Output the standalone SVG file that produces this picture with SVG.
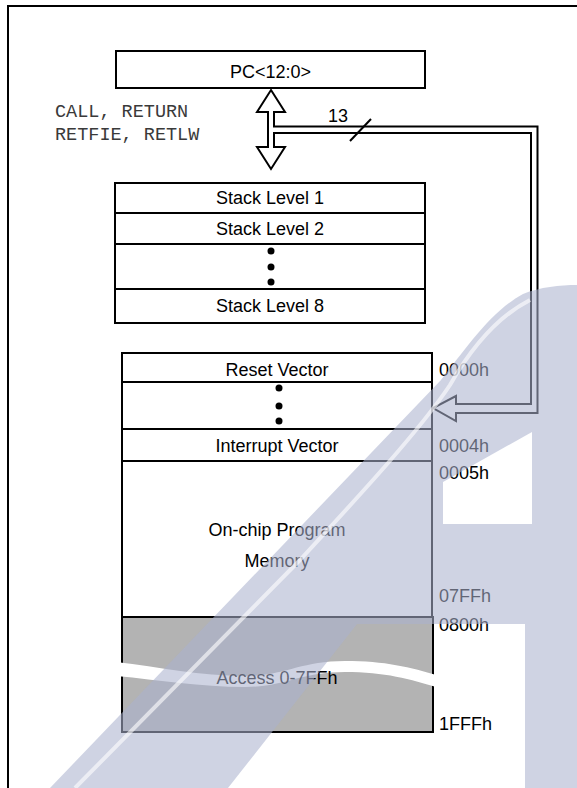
<svg xmlns="http://www.w3.org/2000/svg" width="577" height="788" viewBox="0 0 577 788">
<style>
.box{fill:#fff;stroke:#000;stroke-width:2}
.ln{stroke:#000;stroke-width:2;fill:none}
.t{font-family:"Liberation Sans",Arial,sans-serif;font-size:18px;fill:#000;text-anchor:middle}
.a{font-family:"Liberation Sans",Arial,sans-serif;font-size:18px;fill:#000}
.m{font-family:"Liberation Mono","Courier New",monospace;font-size:18.5px;fill:#3a3a3a}
.dot{fill:#000}
</style>
<rect x="0" y="0" width="577" height="788" fill="#fff"/>
<path d="M8,788 V6 H577" class="ln"/>

<g id="pc">
<rect class="box" x="116" y="51" width="309" height="37"/>
<text class="t" x="270.5" y="77.5">PC&lt;12:0&gt;</text>
</g>

<g id="ops-label">
<text class="m" x="55" y="117">CALL, RETURN</text>
<text class="m" x="55" y="139.5">RETFIE, RETLW</text>
</g>

<g id="stack">
<rect class="box" x="115" y="183" width="310" height="140"/>
<line class="ln" x1="115" y1="213" x2="425" y2="213"/>
<line class="ln" x1="115" y1="244" x2="425" y2="244"/>
<line class="ln" x1="115" y1="289" x2="425" y2="289"/>
<text class="t" x="270" y="204">Stack Level 1</text>
<text class="t" x="270" y="235">Stack Level 2</text>
<circle class="dot" cx="271" cy="251" r="3.5"/>
<circle class="dot" cx="271" cy="267" r="3.5"/>
<circle class="dot" cx="271" cy="282" r="3.5"/>
<text class="t" x="270" y="311.5">Stack Level 8</text>
</g>

<g id="memory">
<rect class="box" x="122" y="353" width="310" height="264"/>
<line class="ln" x1="122" y1="382" x2="432" y2="382"/>
<line class="ln" x1="122" y1="429" x2="432" y2="429"/>
<line class="ln" x1="122" y1="461" x2="432" y2="461"/>
<text class="t" x="277" y="375.5">Reset Vector</text>
<circle class="dot" cx="279" cy="388" r="3.5"/>
<circle class="dot" cx="279" cy="406" r="3.5"/>
<circle class="dot" cx="279" cy="421" r="3.5"/>
<text class="t" x="277" y="452">Interrupt Vector</text>
<text class="t" x="277" y="536">On-chip Program</text>
<text class="t" x="277" y="567">Memory</text>
</g>

<g id="unimplemented">
<rect x="122" y="617" width="311" height="115" fill="#b3b3b3" stroke="#000" stroke-width="2"/>
<path d="M116,662 C160,667 200,676 245,676 C285,676 300,661 345,661 C385,661 410,667 439,676 L439,688 C410,679 385,672 345,672 C300,672 285,687 245,687 C200,687 160,680 116,676 Z" fill="#fff"/>
<text class="t" x="277" y="684">Access 0-7FFh</text>
</g>

<g id="addresses">
<text class="a" x="439" y="376">0000h</text>
<text class="a" x="439" y="452">0004h</text>
<text class="a" x="439" y="479">0005h</text>
<text class="a" x="439" y="602">07FFh</text>
<text class="a" x="439" y="631">0800h</text>
<text class="a" x="439" y="730">1FFFh</text>
</g>

<g id="connectors">
<path d="M271,90 L285,112 L274,112 L274,126.5 L537.5,126.5 L537.5,413 L456,413 L456,421 L433,408 L456,396 L456,404 L531,404 L531,133 L274,133 L274,147 L285,147 L271,169 L257,147 L268,147 L268,112 L257,112 Z" fill="#fff" stroke="#000" stroke-width="2" stroke-linejoin="miter"/>
<line class="ln" x1="350" y1="141" x2="371" y2="119" stroke-width="1.5"/>
<text class="a" x="328" y="122" font-size="16">13</text>
</g>

<g id="watermark">
<path fill-rule="evenodd" fill="rgb(170,178,205)" fill-opacity="0.57" d="M50,788 L441,380 C465,350 490,312 523,294 C540,287 560,285 577,285 L577,788 L525,788 L525,624 L357,624 L228,788 Z M443,482 L532,432 L532,524 L443,524 Z"/>
<path d="M75,788 L300,560 C360,495 420,430 450,385 C470,350 495,318 530,300" fill="none" stroke="#fff" stroke-opacity="0.6" stroke-width="4"/>
</g>
</svg>
